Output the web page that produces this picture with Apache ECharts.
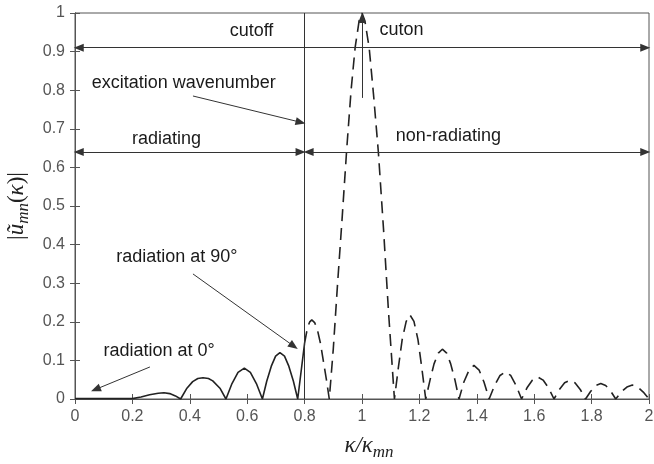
<!DOCTYPE html>
<html>
<head>
<meta charset="utf-8">
<script src="https://cdn.jsdelivr.net/npm/echarts@6/dist/echarts.min.js"></script>
<style>html,body{margin:0;padding:0;background:#fff}#c{width:654px;height:464px}</style>
</head>
<body>
<div id="c"></div>
<script>
// |u_mn(kappa)|: solid part (radiating, 0..0.8)
var solidCurve = [
  [0,0.001],[0.1,0.001],[0.2,0.001],[0.23,0.005],[0.26,0.011],[0.29,0.015],[0.31,0.016],[0.33,0.014],[0.35,0.008],[0.368,0],
  [0.39,0.028],[0.41,0.045],[0.428,0.053],[0.446,0.055],[0.465,0.053],[0.48,0.047],[0.505,0.028],[0.526,0],
  [0.547,0.04],[0.568,0.069],[0.59,0.08],[0.611,0.069],[0.632,0.04],[0.653,0],
  [0.668,0.046],[0.684,0.085],[0.699,0.111],[0.714,0.12],[0.73,0.111],[0.745,0.085],[0.761,0.046],[0.776,0],
  [0.8,0.145]
];
// dashed part (non-radiating, 0.8..2)
var dashedCurve = [
  [0.8,0.145],[0.81,0.185],[0.818,0.2],[0.825,0.205],[0.835,0.198],[0.845,0.178],[0.855,0.145],[0.865,0.1],[0.876,0.05],[0.886,0],
  [0.9,0.13],[0.915,0.3],[0.93,0.46],[0.947,0.65],[0.962,0.8],[0.976,0.91],[0.99,0.98],[1.0,1.0],[1.01,0.98],[1.025,0.91],[1.04,0.79],[1.057,0.64],[1.075,0.44],[1.092,0.23],[1.103,0.11],[1.113,0],
  [1.127,0.083],[1.14,0.154],[1.154,0.201],[1.167,0.218],[1.181,0.201],[1.195,0.154],[1.208,0.083],[1.222,0],
  [1.237,0.049],[1.251,0.091],[1.266,0.119],[1.28,0.129],[1.295,0.119],[1.309,0.091],[1.324,0.049],[1.338,0],
  [1.355,0.044],[1.373,0.075],[1.39,0.087],[1.408,0.075],[1.425,0.044],[1.443,0],
  [1.462,0.035],[1.481,0.061],[1.5,0.07],[1.518,0.061],[1.537,0.035],[1.556,0],
  [1.575,0.029],[1.594,0.049],[1.612,0.057],[1.631,0.049],[1.65,0.029],[1.669,0],
  [1.687,0.024],[1.706,0.042],[1.724,0.048],[1.742,0.042],[1.761,0.024],[1.779,0],
  [1.797,0.02],[1.814,0.035],[1.832,0.04],[1.849,0.035],[1.867,0.02],[1.884,0],
  [1.903,0.018],[1.923,0.031],[1.942,0.036],[1.961,0.031],[1.98,0.018],[2.0,0]
];
// annotation arrows: [x1,y1,x2,y2, arrowAtStart, arrowAtEnd]
var arrowLines = [
  [0.013,0.91,1.987,0.91,true,true],
  [0.013,0.64,0.786,0.64,true,true],
  [0.814,0.64,1.987,0.64,true,true],
  [1.0,0.78,1.0,0.987,false,true],
  [0.411,0.785,0.786,0.717,false,true],
  [0.411,0.324,0.762,0.137,false,true],
  [0.261,0.083,0.072,0.025,false,true]
];
var excitationX = 0.8;
// annotation texts: [text, x, y]
var annotationTexts = [
  ['cutoff',0.615,0.952],
  ['cuton',1.138,0.956],
  ['excitation wavenumber',0.379,0.818],
  ['radiating',0.319,0.673],
  ['non-radiating',1.301,0.68],
  ['radiation at 90°',0.355,0.368],
  ['radiation at 0°',0.293,0.1235]
];

var lineCol = '#333';
var mlData = arrowLines.map(function(a){
  return [
    {coord:[a[0],a[1]], symbol: a[4]?'triangle':'none', symbolSize:[8,10]},
    {coord:[a[2],a[3]], symbol: a[5]?'triangle':'none', symbolSize:[8,10]}
  ];
});
mlData.push([{xAxis: excitationX, yAxis:0, symbol:'none'},{xAxis: excitationX, yAxis:1, symbol:'none'}]);

var mpData = annotationTexts.map(function(t){ return {name:t[0], coord:[t[1],t[2]]}; });

var chart = echarts.init(document.getElementById('c'), null, {renderer:'canvas'});
var tickLabel = {color:'#555', fontSize:16, fontFamily:'Liberation Sans, Arial, sans-serif'};
chart.setOption({
  animation:false,
  grid:{left:75,right:5,top:13,bottom:65,show:true,borderColor:'#555',borderWidth:1,outerBoundsMode:'none',containLabel:false},
  xAxis:[{
    type:'value',min:0,max:2,interval:0.2,
    axisLine:{show:true,lineStyle:{color:'#555'}},
    axisTick:{inside:true,length:5,lineStyle:{color:'#555'}},
    splitLine:{show:false},
    axisLabel:Object.assign({margin:10},tickLabel),
    name:'{i|κ/κ}{s|mn}',nameLocation:'middle',nameGap:32,
    nameTextStyle:{padding:[0,0,0,14],rich:{
      i:{fontFamily:'Liberation Serif, serif',fontStyle:'italic',fontSize:23,color:'#222',lineHeight:30},
      s:{fontFamily:'Liberation Serif, serif',fontStyle:'italic',fontSize:17,color:'#222',lineHeight:16,verticalAlign:'bottom'}
    }}
  },{
    type:'value',min:0,max:2,interval:0.2,position:'top',
    axisLine:{show:true,lineStyle:{color:'#555'}},
    axisTick:{inside:true,length:5,lineStyle:{color:'#555'}},
    axisLabel:{show:false},splitLine:{show:false}
  }],
  yAxis:[{
    type:'value',min:0,max:1,interval:0.1,
    axisLine:{show:true,lineStyle:{color:'#555'}},
    axisTick:{show:true,inside:true,length:5,lineStyle:{color:'#555'}},
    splitLine:{show:false},
    axisLabel:Object.assign({margin:10},tickLabel),
    name:'{n||}{i|ũ}{s|mn}{n|(}{i|κ}{n|)|}',nameLocation:'middle',nameGap:39,nameRotate:90,
    nameTextStyle:{rich:{
      n:{fontFamily:'Liberation Serif, serif',fontSize:23,color:'#222',lineHeight:30},
      i:{fontFamily:'Liberation Serif, serif',fontStyle:'italic',fontSize:23,color:'#222',lineHeight:30},
      s:{fontFamily:'Liberation Serif, serif',fontStyle:'italic',fontSize:17,color:'#222',lineHeight:16,verticalAlign:'bottom'}
    }}
  },{
    type:'value',min:0,max:1,interval:0.1,position:'right',
    axisLine:{show:true,lineStyle:{color:'#555'}},
    axisTick:{show:true,inside:true,length:5,lineStyle:{color:'#555'}},
    axisLabel:{show:false},splitLine:{show:false}
  }],
  series:[{
    type:'line',data:solidCurve,showSymbol:false,symbol:'none',
    lineStyle:{color:'#222',width:1.6},
    markLine:{
      silent:true,animation:false,symbol:['none','none'],
      label:{show:false},
      lineStyle:{color:lineCol,width:1,type:'solid'},
      itemStyle:{color:lineCol},
      emphasis:{disabled:true},
      data:mlData
    },
    markPoint:{
      silent:true,animation:false,symbol:'circle',symbolSize:1,
      itemStyle:{color:'rgba(0,0,0,0)'},
      label:{show:true,position:'inside',formatter:'{b}',color:'#1a1a1a',fontSize:18,fontFamily:'Liberation Sans, Arial, sans-serif'},
      data:mpData
    }
  },{
    type:'line',data:dashedCurve,showSymbol:false,symbol:'none',
    lineStyle:{color:'#222',width:1.6,type:[12,7]}
  }]
});
</script>
</body>
</html>
